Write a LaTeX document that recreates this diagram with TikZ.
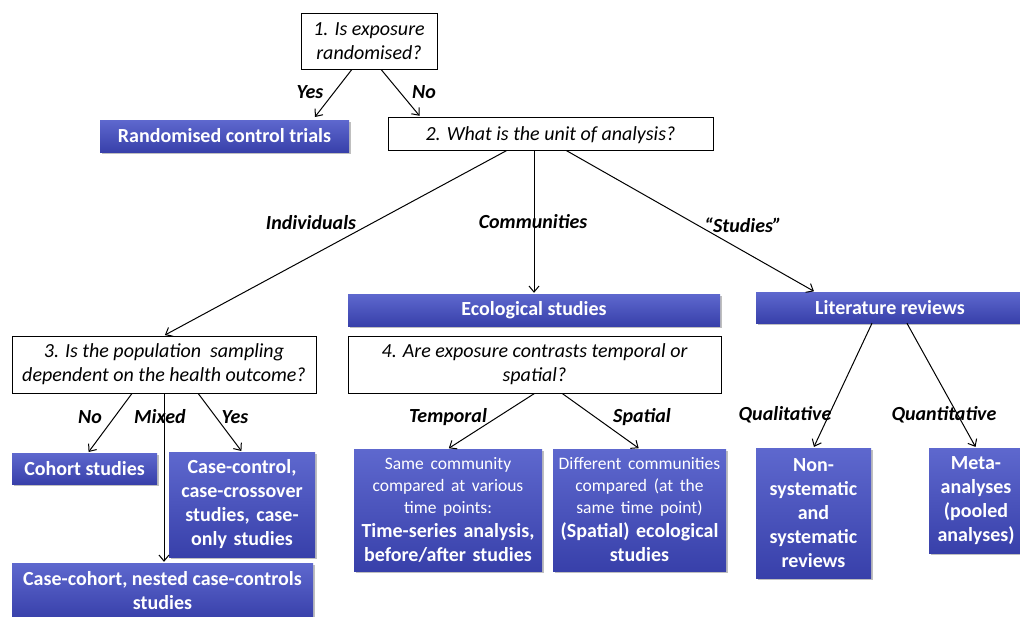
\documentclass[tikz,border=0pt]{standalone}
\usepackage{fontspec}
\setmainfont{Carlito}
\usetikzlibrary{calc,arrows.meta,shadows}
\definecolor{bTop}{RGB}{94,104,206}
\definecolor{bBot}{RGB}{56,64,170}
\newcommand{\smtxt}{\fontsize{17.5}{22}\selectfont\mdseries}
\begin{document}
\begin{tikzpicture}[x=1pt,y=-1pt,
  qbox/.style={draw=black, line width=0.9pt, fill=white, inner sep=0pt, align=center,
    font=\fontsize{20}{24}\selectfont\itshape},
  bluebox/.style={top color=bTop, bottom color=bBot, draw=none, inner sep=0pt, align=center,
    text=white, font=\fontsize{20}{24}\selectfont\bfseries,
    drop shadow={shadow xshift=2pt, shadow yshift=-2pt, opacity=0.25, fill=black}},
  lab/.style={font=\fontsize{20}{22}\selectfont\bfseries\itshape, inner sep=0pt},
  arr/.style={draw=black, line width=1pt, shorten >=1pt, -{Straight Barb[length=6pt,width=10pt]}}
]
\clip (0,0) rectangle (1020,616);
\fill[white] (0,0) rectangle (1020,616);

% question boxes
\node[qbox, minimum width=136pt, minimum height=56pt] (q1) at (369,41) {1. Is exposure\\randomised?};
\node[qbox, minimum width=325pt, minimum height=33pt, text height=17pt] (q2) at (550.5,133.5) {2. What is the unit of analysis?};
\node[qbox, minimum width=304pt, minimum height=57pt] (q3) at (164,364.5) {3. Is the population\ \ sampling\\dependent on the health outcome?};
\node[qbox, minimum width=373pt, minimum height=57pt] (q4) at (534.5,364.5) {4. Are exposure contrasts temporal or\\spatial?};

% result boxes
\node[bluebox, minimum width=249pt, minimum height=32pt] (rct) at (224.5,136) {Randomised control trials};
\node[bluebox, minimum width=372pt, minimum height=32pt] (eco) at (534,310) {Ecological studies};
\node[bluebox, minimum width=268pt, minimum height=31pt] (lit) at (890,307.5) {Literature reviews};
\node[bluebox, minimum width=145pt, minimum height=31pt] (coh) at (84.5,468.5) {Cohort studies};
\node[bluebox, text width=146pt, minimum height=105pt] (ccs) at (242,504.5) {Case-control,\\case-crossover\\studies, case-\\only studies};
\node[bluebox, minimum width=301pt, minimum height=56pt] (cco) at (162.5,591) {Case-cohort, nested case-controls\\studies};
\node[bluebox, text width=188pt, minimum height=122pt] (ts) at (448,510)
  {{\smtxt Same community\\compared at various\\time points:\par}Time-series analysis,\\before/after studies};
\node[bluebox, text width=173pt, minimum height=122pt] (sp) at (639.5,510)
  {{\smtxt Different communities\\compared (at the\\same time point)\par}(Spatial) ecological\\studies};
\node[bluebox, text width=115pt, minimum height=130pt] (ns) at (813.5,513) {Non-\\systematic\\and\\systematic\\reviews};
\node[bluebox, text width=94pt, minimum height=105pt] (meta) at (976,500.5) {Meta-\\analyses\\(pooled\\analyses)};

% labels
\node[lab] (lyes1) at (310,92) {Yes};
\node[lab] (lno1) at (424,92) {No};
\node[lab] (lind) at (311,223) {Individuals};
\node[lab] (lcom) at (533,222) {Communities};
\node[lab] (lstu) at (743,225) {“Studies”};
\node[lab] (lno3) at (90,417) {No};
\node[lab] (lmix) at (160,417) {Mixed};
\node[lab] (lyes3) at (235,417) {Yes};
\node[lab] (ltem) at (448,417) {Temporal};
\node[lab] (lspa) at (642,417) {Spatial};
\node[lab] (lqual) at (785,415) {Qualitative};
\node[lab] (lquan) at (944,415) {Quantitative};

% connectors
\draw[arr] ($(q1.south west)!0.375!(q1.south east)$) -- ($(rct.north west)!0.86!(rct.north east)+(0,-2)$);
\draw[arr] ($(q1.south west)!0.588!(q1.south east)$) -- ($(q2.north west)!0.10!(q2.north east)$);
\draw[arr] ($(q2.south west)!0.366!(q2.south east)$) -- (q3.north);
\draw[arr] (q2.south -| eco.north) -- (eco.north);
\draw[arr] ($(q2.south west)!0.548!(q2.south east)$) -- ($(lit.north west)!0.22!(lit.north east)$);
\draw[arr] ($(q3.south west)!0.395!(q3.south east)$) -- ($(coh.north west)!0.524!(coh.north east)$);
\draw[arr] (q3.south) -- (q3.south |- cco.north);
\draw[arr] ($(q3.south west)!0.612!(q3.south east)$) -- (ccs.north);
\draw[arr] (q4.south) -- (ts.north);
\draw[arr] ($(q4.south west)!0.574!(q4.south east)$) -- (sp.north);
\draw[arr] ($(lit.south west)!0.433!(lit.south east)$) -- (ns.north);
\draw[arr] ($(lit.south west)!0.563!(lit.south east)$) -- (meta.north);
\end{tikzpicture}
\end{document}
